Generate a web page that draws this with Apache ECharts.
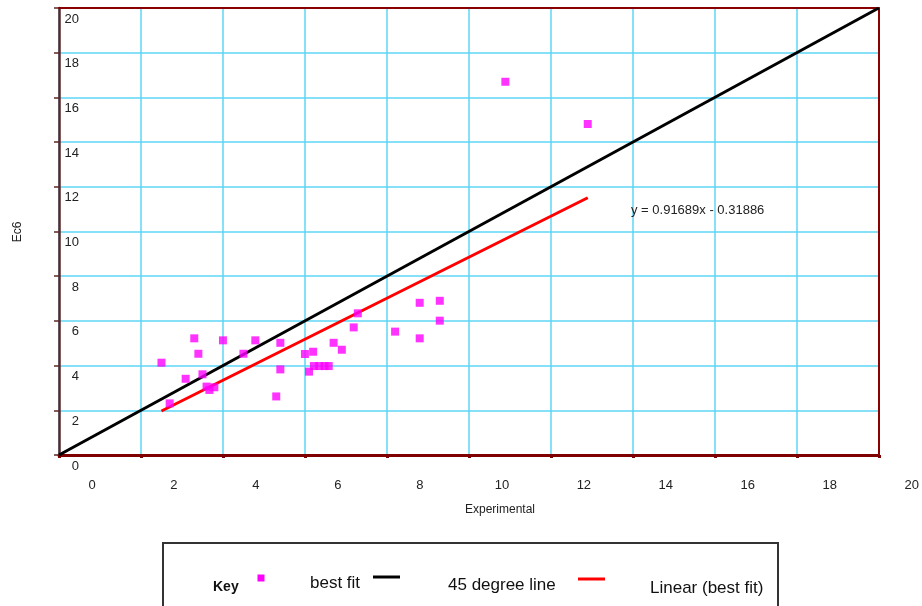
<!DOCTYPE html>
<html>
<head>
<meta charset="utf-8">
<script src="https://cdn.jsdelivr.net/npm/echarts@6/dist/echarts.min.js"></script>
<style>
html,body{margin:0;padding:0;background:#fff;}
#chart{width:922px;height:606px;}
</style>
</head>
<body>
<div id="chart"></div>
<script>
// ---- data ----
var experimental = [2.50, 2.70, 3.09, 3.30, 3.40, 3.50, 3.60, 3.67, 3.79, 4.00, 4.50, 4.79, 5.30, 5.40, 5.40, 6.00, 6.10, 6.20, 6.22, 6.35, 6.48, 6.58, 6.70, 6.90, 7.19, 7.29, 8.20, 8.80, 8.80, 9.29, 9.29, 10.89, 12.90];
var ec6 = [4.13, 2.31, 3.41, 5.22, 4.53, 3.61, 3.06, 2.91, 3.03, 5.13, 4.53, 5.13, 2.62, 5.02, 3.83, 4.52, 3.73, 4.62, 3.98, 3.98, 3.98, 3.98, 5.02, 4.71, 5.71, 6.34, 5.52, 6.81, 5.22, 6.90, 6.01, 16.70, 14.81];
var line45X = [0, 20];
var line45Y = [0, 20];
var trendX = [2.50, 12.90];
var trendY = [1.97, 11.51];
var equationText = 'y = 0.91689x - 0.31886';
var xTitle = 'Experimental';
var yTitle = 'Ec6';
var legendNames = ['best fit', '45 degree line', 'Linear (best fit)'];

function pairs(xs, ys){ return xs.map(function(x,i){ return [x, ys[i]]; }); }

var chart = echarts.init(document.getElementById('chart'), null, {renderer:'canvas'});
var font = '"Liberation Sans", Arial, sans-serif';

var option = {
  backgroundColor: '#ffffff',
  animation: false,
  grid: {
    left: 59, right: 40, top: 8, bottom: 151,
    show: false
  },
  xAxis: [{
    type: 'value', min: 0, max: 20, interval: 2, position: 'bottom',
    axisLine: {show: true, onZero: false, lineStyle: {color: '#7f0000', width: 3}},
    axisTick: {show: true, length: 3, lineStyle: {color: '#7f0000', width: 3}},
    splitLine: {show: true, lineStyle: {color: '#5cd6f6', width: 1.5}},
    axisLabel: {color: '#222', fontFamily: font, fontSize: 13, margin: 24, padding: [0,0,0,66], align: 'center'}
  }, {
    type: 'value', min: 0, max: 20, interval: 2, position: 'top', z: 3,
    axisLine: {show: true, onZero: false, lineStyle: {color: '#8b0000', width: 2}},
    axisTick: {show: false}, axisLabel: {show: false}, splitLine: {show: false}
  }],
  yAxis: [{
    type: 'value', min: 0, max: 20, interval: 2, position: 'left',
    axisLine: {show: true, onZero: false, lineStyle: {color: '#5a2828', width: 2.5}},
    axisTick: {show: true, length: 5, lineStyle: {color: '#5a2828', width: 1.5}},
    splitLine: {show: true, lineStyle: {color: '#5cd6f6', width: 1.5}},
    axisLabel: {inside: true, color: '#222', fontFamily: font, fontSize: 13, margin: 20, align: 'right', verticalAlign: 'top', lineHeight: 22}
  }, {
    type: 'value', min: 0, max: 20, interval: 2, position: 'right', z: 3,
    axisLine: {show: true, onZero: false, lineStyle: {color: '#8b0000', width: 2}},
    axisTick: {show: false}, axisLabel: {show: false}, splitLine: {show: false}
  }],
  series: [
    {
      name: legendNames[1], type: 'line', data: pairs(line45X, line45Y),
      showSymbol: false, symbol: 'none',
      lineStyle: {color: '#000', width: 3}, z: 3
    },
    {
      name: legendNames[2], type: 'line', data: pairs(trendX, trendY),
      showSymbol: false, symbol: 'none',
      lineStyle: {color: '#ff0000', width: 3}, z: 4
    },
    {
      name: legendNames[0], type: 'scatter', data: pairs(experimental, ec6),
      symbol: 'rect', symbolSize: 8,
      itemStyle: {color: '#ff00ff'}, z: 5
    }
  ],
  graphic: [
    {type: 'text', left: 631, top: 204, style: {text: equationText, font: '13px ' + font, fill: '#222'}, z: 10},
    {type: 'text', x: 500, y: 510, style: {text: xTitle, font: '12px ' + font, fill: '#222', align: 'center', verticalAlign: 'middle'}},
    {type: 'text', x: 18, y: 232, rotation: Math.PI/2, style: {text: yTitle, font: '12px ' + font, fill: '#222', align: 'center', verticalAlign: 'middle'}},
    // legend box
    {type: 'rect', shape: {x: 163, y: 543, width: 615, height: 90}, style: {fill: '#fff', stroke: '#333', lineWidth: 2}},
    {type: 'text', x: 213, y: 587, style: {text: 'Key', font: 'bold 14px ' + font, fill: '#111', verticalAlign: 'middle'}},
    {type: 'rect', shape: {x: 257.5, y: 574.5, width: 7, height: 7}, style: {fill: '#ff00ff'}},
    {type: 'text', x: 310, y: 583, style: {text: legendNames[0], font: '17px ' + font, fill: '#111', verticalAlign: 'middle'}},
    {type: 'line', shape: {x1: 373, y1: 577, x2: 400, y2: 577}, style: {stroke: '#000', lineWidth: 3}},
    {type: 'text', x: 448, y: 585, style: {text: legendNames[1], font: '17px ' + font, fill: '#111', verticalAlign: 'middle'}},
    {type: 'line', shape: {x1: 578, y1: 579, x2: 605, y2: 579}, style: {stroke: '#ff0000', lineWidth: 3}},
    {type: 'text', x: 650, y: 588, style: {text: legendNames[2], font: '17px ' + font, fill: '#111', verticalAlign: 'middle'}}
  ]
};
chart.setOption(option);
</script>
</body>
</html>
